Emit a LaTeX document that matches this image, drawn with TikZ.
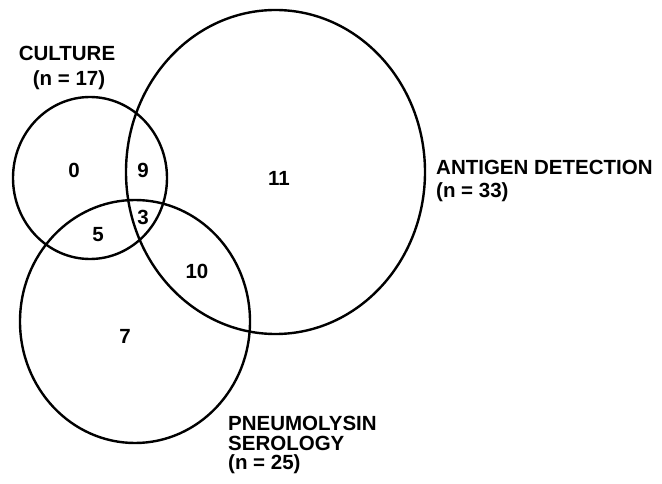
\documentclass[tikz,border=0pt]{standalone}
\usepackage{fontspec}
\setmainfont{Liberation Sans}
\usetikzlibrary{shapes.geometric}
\begin{document}
\begin{tikzpicture}[x=1pt,y=-1pt,
  setring/.style={draw=black, line width=2.4pt, ellipse, inner sep=0pt},
  lbl/.style={inner sep=0pt, font=\fontsize{20.5}{23}\selectfont\bfseries},
  num/.style={inner sep=0pt, font=\fontsize{20.5}{23}\selectfont\bfseries}]
\useasboundingbox (0,0) rectangle (662,484);
\node[setring, minimum width=154pt, minimum height=162pt] (culture) at (90,178) {};
\node[setring, minimum width=299pt, minimum height=324pt] (antigen) at (275.5,172) {};
\node[setring, minimum width=230pt, minimum height=243pt] (pneumo) at (135,321.5) {};
% titles
\node[lbl] (cultT) at (67,53) {CULTURE};
\node[lbl] (cultN) at (69,80) {(n = 17)};
\node[lbl, anchor=west] (antT) at (436,167) {ANTIGEN DETECTION};
\node[lbl, anchor=west] (antN) at (436,192) {(n = 33)};
\node[lbl, anchor=west] (pneT) at (228,423) {PNEUMOLYSIN};
\node[lbl, anchor=west] (pneS) at (228,443) {SEROLOGY};
\node[lbl, anchor=west] (pneN) at (228,464) {(n = 25)};
% counts
\node[num] (c0) at (74,170) {0};
\node[num] (c9) at (143,170) {9};
\node[num] (c11) at (279,178) {11};
\node[num] (c3) at (143,217) {3};
\node[num] (c5) at (98,235) {5};
\node[num] (c10) at (197,271) {10};
\node[num] (c7) at (125,336) {7};
\end{tikzpicture}
\end{document}
